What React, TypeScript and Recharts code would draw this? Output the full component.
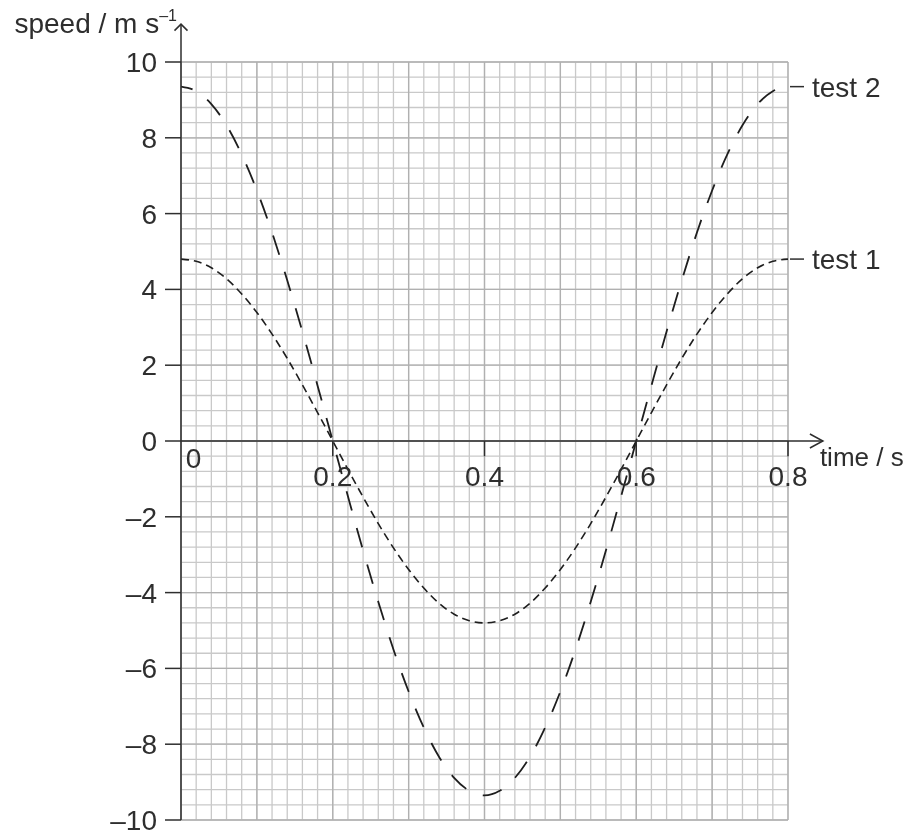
import React from 'react';
import { LineChart, Line, XAxis, YAxis, CartesianGrid, ReferenceLine, ReferenceDot } from 'recharts';

// ---- data ----
const time = [
  0, 0.02, 0.04, 0.06, 0.08, 0.1, 0.12, 0.14, 0.16, 0.18,
  0.2, 0.22, 0.24, 0.26, 0.28, 0.3, 0.32, 0.34, 0.36, 0.38,
  0.4, 0.42, 0.44, 0.46, 0.48, 0.5, 0.52, 0.54, 0.56, 0.58,
  0.6, 0.62, 0.64, 0.66, 0.68, 0.7, 0.72, 0.74, 0.76, 0.78, 0.8,
];
const test1 = [
  4.8, 4.74, 4.57, 4.28, 3.88, 3.39, 2.82, 2.18, 1.48, 0.75,
  0, -0.75, -1.48, -2.18, -2.82, -3.39, -3.88, -4.28, -4.57, -4.74,
  -4.8, -4.74, -4.57, -4.28, -3.88, -3.39, -2.82, -2.18, -1.48, -0.75,
  0, 0.75, 1.48, 2.18, 2.82, 3.39, 3.88, 4.28, 4.57, 4.74, 4.8,
];
const test2 = [
  9.35, 9.23, 8.89, 8.33, 7.56, 6.61, 5.5, 4.24, 2.89, 1.46,
  0, -1.46, -2.89, -4.24, -5.5, -6.61, -7.56, -8.33, -8.89, -9.23,
  -9.35, -9.23, -8.89, -8.33, -7.56, -6.61, -5.5, -4.24, -2.89, -1.46,
  0, 1.46, 2.89, 4.24, 5.5, 6.61, 7.56, 8.33, 8.89, 9.23, 9.35,
];
const seriesNames = ['test 1', 'test 2'];
const yTicks = [-10, -8, -6, -4, -2, 0, 2, 4, 6, 8, 10];
const xTickValues = [0, 0.2, 0.4, 0.6, 0.8];
const xTickLabels = ['0', '0.2', '0.4', '0.6', '0.8'];
const xTitle = 'time / s';
const yTitle = 'speed / m s';
const yTitleSup = '–1';

// grid positions (every 0.02 s / 0.4 m/s, darker every 0.1 s / 2 m/s)
const minorX = Array.from({ length: 41 }, (_, i) => +(i * 0.02).toFixed(2));
const majorX = Array.from({ length: 9 }, (_, i) => +(i * 0.1).toFixed(1));
const minorY = Array.from({ length: 51 }, (_, i) => +(-10 + i * 0.4).toFixed(1));

const rows = time.map((t, i) => ({ t, test1: test1[i], test2: test2[i] }));

const FONT = "'Liberation Sans', Arial, sans-serif";
const INK = '#2e2e2e';
const FS = 28;

const fmtY = (v: number) => (v < 0 ? '–' + Math.abs(v) : String(v));

const YArrow = (p: any) => {
  const { cx, cy } = p;
  return (
    <g>
      <path d={`M${cx - 6.5},${cy + 6.5} L${cx},${cy} L${cx + 6.5},${cy + 6.5}`} fill="none" stroke={INK} strokeWidth={1.5} />
      <text x={cx - 4} y={cy + 9} textAnchor="end" fontSize={FS} fill={INK} fontFamily={FONT}>
        {yTitle}
        <tspan dy={-12} fontSize={16}>{yTitleSup}</tspan>
      </text>
    </g>
  );
};

const XArrow = (p: any) => {
  const { cx, cy } = p;
  return (
    <g>
      <path d={`M${cx - 13},${cy - 7} L${cx},${cy} L${cx - 13},${cy + 7}`} fill="none" stroke={INK} strokeWidth={1.5} />
      <text x={cx - 3} y={cy + 25} textAnchor="start" fontSize={26} fill={INK} fontFamily={FONT}>
        {xTitle}
      </text>
    </g>
  );
};

const makeXLabel = (label: string, isZero: boolean) => (p: any) => {
  const { cx, cy } = p;
  return (
    <text x={cx + (isZero ? 12.5 : 0)} y={cy + (isZero ? 27 : 45)} textAnchor="middle" fontSize={FS} fill={INK} fontFamily={FONT}>
      {label}
    </text>
  );
};

const makeSeriesLabel = (label: string) => (p: any) => {
  const { cx, cy } = p;
  return (
    <text x={cx + 8} y={cy + 10} textAnchor="start" fontSize={FS} fill={INK} fontFamily={FONT}>
      {label}
    </text>
  );
};

export default function App() {
  return (
    <div style={{ position: 'fixed', top: 0, left: 0, width: 914, height: 832 }}>
      <LineChart
        width={914}
        height={832}
        data={rows}
        margin={{ top: 62, right: 126, bottom: 12, left: 121 }}
      >
        <XAxis xAxisId="g" dataKey="t" type="number" domain={[0, 0.8]} ticks={minorX} interval={0} hide height={0} allowDataOverflow />
        <XAxis xAxisId="m" dataKey="t" type="number" domain={[0, 0.8]} ticks={majorX} interval={0} hide height={0} allowDataOverflow />
        <YAxis
          yAxisId="y"
          type="number"
          domain={[-10, 10]}
          ticks={yTicks}
          interval={0}
          allowDataOverflow
          width={60}
          tickSize={16}
          tickMargin={8}
          tickFormatter={fmtY}
          tick={{ fontSize: FS, fill: INK, fontFamily: FONT }}
          tickLine={{ stroke: INK, strokeWidth: 1.5 }}
          axisLine={{ stroke: INK, strokeWidth: 1.5 }}
        />
        <YAxis yAxisId="g" type="number" domain={[-10, 10]} ticks={minorY} interval={0} hide width={0} allowDataOverflow />
        <CartesianGrid xAxisId="g" yAxisId="g" stroke="#c9c9c9" strokeWidth={1.3} />
        <CartesianGrid xAxisId="m" yAxisId="y" stroke="#b0b0b0" strokeWidth={1.3} />

        <Line
          xAxisId="g"
          yAxisId="y"
          dataKey="test1"
          name={seriesNames[0]}
          type="monotone"
          stroke="#1e1e1e"
          strokeWidth={1.6}
          strokeDasharray="8 5"
          dot={false}
          isAnimationActive={false}
        />
        <Line
          xAxisId="g"
          yAxisId="y"
          dataKey="test2"
          name={seriesNames[1]}
          type="monotone"
          stroke="#1e1e1e"
          strokeWidth={1.8}
          strokeDasharray="20 18"
          strokeDashoffset={8}
          dot={false}
          isAnimationActive={false}
        />

        {/* x axis drawn through zero with arrow */}
        <ReferenceLine
          xAxisId="g"
          yAxisId="y"
          segment={[{ x: 0, y: 0 }, { x: 0.846, y: 0 }]}
          stroke={INK}
          strokeWidth={1.6}
          ifOverflow="visible"
        />
        {/* y axis extension with arrow */}
        <ReferenceLine
          xAxisId="g"
          yAxisId="y"
          segment={[{ x: 0, y: 10 }, { x: 0, y: 11 }]}
          stroke={INK}
          strokeWidth={1.5}
          ifOverflow="visible"
        />
        <ReferenceDot xAxisId="g" yAxisId="y" x={0} y={11} r={0} ifOverflow="visible" shape={YArrow} />
        <ReferenceDot xAxisId="g" yAxisId="y" x={0.846} y={0} r={0} ifOverflow="visible" shape={XArrow} />

        {xTickValues.map((v, i) =>
          v === 0 ? null : (
            <ReferenceLine
              key={'xt' + i}
              xAxisId="g"
              yAxisId="y"
              segment={[{ x: v, y: 0 }, { x: v, y: -0.4 }]}
              stroke={INK}
              strokeWidth={1.5}
              ifOverflow="visible"
            />
          )
        )}
        {xTickValues.map((v, i) => (
          <ReferenceDot
            key={'xl' + i}
            xAxisId="g"
            yAxisId="y"
            x={v}
            y={0}
            r={0}
            ifOverflow="visible"
            shape={makeXLabel(xTickLabels[i], v === 0)}
          />
        ))}

        {/* series labels with leader lines */}
        <ReferenceLine
          xAxisId="g"
          yAxisId="y"
          segment={[{ x: 0.8026, y: test2[test2.length - 1] }, { x: 0.8211, y: test2[test2.length - 1] }]}
          stroke={INK}
          strokeWidth={1.5}
          ifOverflow="visible"
        />
        <ReferenceDot xAxisId="g" yAxisId="y" x={0.8211} y={test2[test2.length - 1]} r={0} ifOverflow="visible" shape={makeSeriesLabel(seriesNames[1])} />
        <ReferenceLine
          xAxisId="g"
          yAxisId="y"
          segment={[{ x: 0.8026, y: test1[test1.length - 1] }, { x: 0.8211, y: test1[test1.length - 1] }]}
          stroke={INK}
          strokeWidth={1.5}
          ifOverflow="visible"
        />
        <ReferenceDot xAxisId="g" yAxisId="y" x={0.8211} y={test1[test1.length - 1]} r={0} ifOverflow="visible" shape={makeSeriesLabel(seriesNames[0])} />
      </LineChart>
    </div>
  );
}
